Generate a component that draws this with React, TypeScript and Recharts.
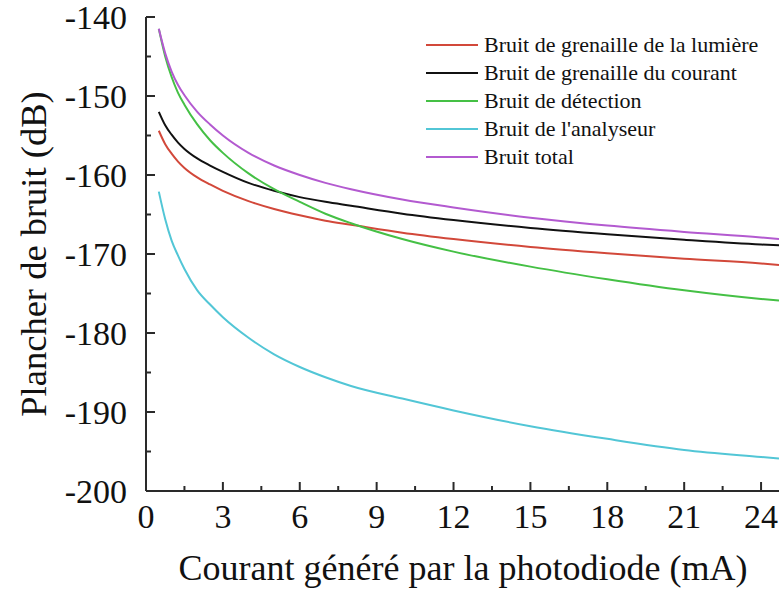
import { LineChart, Line, XAxis, YAxis } from "recharts";

// courant (mA)
const current = [0.5, 0.75, 1, 1.25, 1.5, 2, 2.5, 3, 4, 5, 6, 7, 8, 10, 12, 15, 18, 21, 24, 24.7];

// plancher de bruit (dB)
const lightShot = [-154.4, -156.1, -157.3, -158.3, -159.1, -160.3, -161.2, -162.0, -163.3, -164.3, -165.1, -165.8, -166.3, -167.3, -168.1, -169.1, -169.9, -170.6, -171.2, -171.4];
const currentShot = [-152.0, -153.7, -154.9, -155.9, -156.7, -157.9, -158.8, -159.6, -161.0, -162.0, -162.8, -163.4, -163.9, -164.9, -165.7, -166.7, -167.5, -168.2, -168.8, -168.9];
const detection = [-141.5, -145.0, -147.6, -149.6, -151.1, -153.6, -155.6, -157.2, -159.8, -161.8, -163.4, -164.9, -166.1, -168.1, -169.7, -171.6, -173.2, -174.6, -175.7, -175.9];
const analyser = [-162.1, -165.6, -168.3, -170.2, -171.9, -174.6, -176.4, -178.0, -180.6, -182.7, -184.3, -185.6, -186.7, -188.3, -189.8, -191.8, -193.4, -194.8, -195.7, -195.9];
const total = [-141.5, -144.6, -146.9, -148.6, -149.9, -152.0, -153.6, -155.0, -157.2, -158.8, -160.0, -161.0, -161.8, -163.1, -164.1, -165.4, -166.4, -167.2, -167.9, -168.1];

const xTicks = [0, 1.5, 3, 4.5, 6, 7.5, 9, 10.5, 12, 13.5, 15, 16.5, 18, 19.5, 21, 22.5, 24];
const yTicks = [-200, -195, -190, -185, -180, -175, -170, -165, -160, -155, -150, -145, -140];

const series = [
  { key: "lumiere", name: "Bruit de grenaille de la lumière", color: "#d2483a", values: lightShot },
  { key: "courant", name: "Bruit de grenaille du courant", color: "#111111", values: currentShot },
  { key: "detection", name: "Bruit de détection", color: "#45c045", values: detection },
  { key: "analyseur", name: "Bruit de l'analyseur", color: "#52c6d6", values: analyser },
  { key: "total", name: "Bruit total", color: "#b35ad0", values: total },
];

const data = current.map((c, i) => {
  const row: Record<string, number> = { current: c };
  series.forEach((s) => {
    row[s.key] = s.values[i];
  });
  return row;
});

const FONT = '"Times New Roman", "Liberation Serif", "DejaVu Serif", serif';
const AXIS = "#2a2a2a";

function XTick(props: any) {
  const { x, y, payload } = props;
  const major = payload.value % 3 === 0;
  return (
    <g>
      <line x1={x} y1={y} x2={x} y2={y - (major ? 9 : 5)} stroke={AXIS} strokeWidth={2} />
      {major && (
        <text x={x} y={y + 37} textAnchor="middle" fontFamily={FONT} fontSize={34} fill="#111">
          {payload.value}
        </text>
      )}
    </g>
  );
}

function YTick(props: any) {
  const { x, y, payload } = props;
  const major = payload.value % 10 === 0;
  return (
    <g>
      <line x1={x} y1={y} x2={x + (major ? 9 : 5)} y2={y} stroke={AXIS} strokeWidth={2} />
      {major && (
        <text x={x - 19} y={y + 11.5} textAnchor="end" fontFamily={FONT} fontSize={34} fill="#111">
          {payload.value}
        </text>
      )}
    </g>
  );
}

export default function App() {
  return (
    <div style={{ position: "absolute", left: 0, top: 0, width: 779, height: 589, background: "#fff" }}>
      <LineChart width={779} height={589} data={data} margin={{ top: 17, right: 0, bottom: 0, left: 0 }}>
        <XAxis
          dataKey="current"
          type="number"
          domain={[0, 24.7]}
          ticks={xTicks}
          interval={0}
          height={98}
          tickSize={0}
          tickMargin={0}
          tickLine={false}
          axisLine={{ stroke: AXIS, strokeWidth: 2 }}
          tick={<XTick />}
        />
        <XAxis
          xAxisId="top"
          orientation="top"
          dataKey="current"
          type="number"
          domain={[0, 24.7]}
          height={0}
          tick={false}
          tickLine={false}
          axisLine={{ stroke: AXIS, strokeWidth: 2 }}
        />
        <YAxis
          type="number"
          domain={[-200, -140]}
          ticks={yTicks}
          interval={0}
          width={146}
          tickSize={0}
          tickMargin={0}
          tickLine={false}
          axisLine={{ stroke: AXIS, strokeWidth: 2 }}
          tick={<YTick />}
        />
        {series.map((s) => (
          <Line
            key={s.key}
            dataKey={s.key}
            name={s.name}
            type="monotone"
            stroke={s.color}
            strokeWidth={2}
            dot={false}
            isAnimationActive={false}
          />
        ))}
      </LineChart>

      <div style={{ position: "absolute", left: 426, top: 31, fontFamily: FONT, fontSize: 22, color: "#111" }}>
        {series.map((s) => (
          <div key={s.key} style={{ display: "flex", alignItems: "center", height: 28 }}>
            <span style={{ display: "inline-block", width: 52, height: 2, background: s.color, marginRight: 6 }} />
            <span>{s.name}</span>
          </div>
        ))}
      </div>

      <div
        style={{
          position: "absolute",
          left: 33,
          top: 254,
          transform: "translate(-50%, -50%) rotate(-90deg)",
          whiteSpace: "nowrap",
          fontFamily: FONT,
          fontSize: 36.5,
          color: "#111",
        }}
      >
        Plancher de bruit (dB)
      </div>
      <div
        style={{
          position: "absolute",
          left: 463,
          top: 568,
          transform: "translate(-50%, -50%)",
          whiteSpace: "nowrap",
          fontFamily: FONT,
          fontSize: 36,
          color: "#111",
        }}
      >
        Courant généré par la photodiode (mA)
      </div>
    </div>
  );
}
